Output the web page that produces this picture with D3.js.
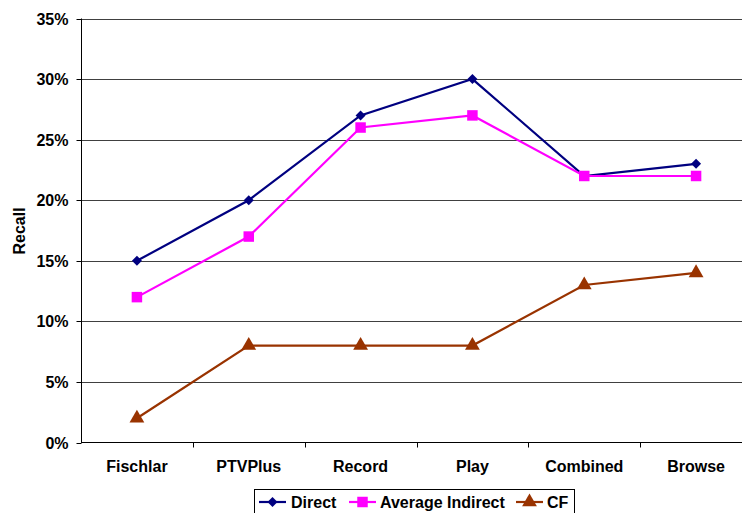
<!DOCTYPE html>
<html><head><meta charset="utf-8">
<script src="https://cdn.jsdelivr.net/npm/d3@7"></script>
<style>body{margin:0;background:#fff}svg{display:block;font-family:"Liberation Sans",Arial,sans-serif}</style>
</head><body><svg id="c" width="742" height="513"></svg>
<script>
const categories = ["Fischlar","PTVPlus","Record","Play","Combined","Browse"];
const direct = [15,20,27,30,22,23];
const avgIndirect = [12,17,26,27,22,22];
const cf = [2,8,8,8,13,14];
const yTicks = [0,5,10,15,20,25,30,35];
const seriesNames = ["Direct","Average Indirect","CF"];

const series = [
  {name: seriesNames[0], values: direct, color: "#000080", sym: d3.symbolSquare, size: 50, rot: 45},
  {name: seriesNames[1], values: avgIndirect, color: "#FF00FF", sym: d3.symbolSquare, size: 110, rot: 0},
  {name: seriesNames[2], values: cf, color: "#993300", sym: d3.symbolTriangle, size: 95, rot: 0}
];

const svg = d3.select("#c");
const L = 81, R = 752, T = 18.5, B = 442.5;
const x = d3.scaleBand().domain(categories).range([L, R]);
const y = d3.scaleLinear().domain([0,35]).range([B, T]);

svg.append("g").selectAll("line").data(yTicks.filter(d=>d>0)).join("line")
  .attr("x1", L).attr("x2", 742).attr("y1", d=>Math.round(y(d))+0.5).attr("y2", d=>Math.round(y(d))+0.5)
  .attr("stroke", "#404040").attr("stroke-width", 1);

const yAxis = svg.append("g").attr("transform", `translate(${L+0.5},0)`)
  .call(d3.axisLeft(y).tickValues(yTicks).tickFormat(d=>d+"%").tickSize(5).tickPadding(8));
yAxis.select(".domain").attr("stroke","#000").attr("d", `M0,${T}V${B}`);
yAxis.selectAll(".tick line").attr("stroke","#000");
yAxis.selectAll(".tick").attr("transform", d=>`translate(0,${Math.round(y(d))+0.5})`);
yAxis.selectAll("text").attr("font-size", 16).attr("font-weight","bold").attr("fill","#000")
  .attr("font-family",'"Liberation Sans",Arial,sans-serif');

const xAxis = svg.append("g").attr("transform", `translate(0,${B})`)
  .call(d3.axisBottom(x).tickSize(0).tickPadding(18));
xAxis.select(".domain").attr("stroke","#000").attr("d", `M${L},0H742`);
xAxis.selectAll("text").attr("font-size", 16).attr("font-weight","bold").attr("fill","#000")
  .attr("font-family",'"Liberation Sans",Arial,sans-serif');
svg.append("g").selectAll("line").data(categories.slice(1)).join("line")
  .attr("x1", d=>Math.round(x(d))+0.5).attr("x2", d=>Math.round(x(d))+0.5)
  .attr("y1", B).attr("y2", B+5).attr("stroke","#000");

svg.append("text").attr("transform","translate(25,231) rotate(-90)")
  .attr("text-anchor","middle").attr("font-size",16).attr("font-weight","bold").text("Recall");

const cx = d => x(d) + x.bandwidth()/2;
const line = d3.line().x((d,i)=>cx(categories[i])).y(d=>y(d));

series.forEach(s => {
  svg.append("path").attr("d", line(s.values)).attr("fill","none")
    .attr("stroke", s.color).attr("stroke-width", 2.2);
  svg.append("g").selectAll("path").data(s.values).join("path")
    .attr("transform", (d,i)=>`translate(${cx(categories[i])},${y(d)}) rotate(${s.rot})`)
    .attr("d", d3.symbol().type(s.sym).size(s.size)).attr("fill", s.color);
});

const lg = svg.append("g");
lg.append("rect").attr("x",254.5).attr("y",489.5).attr("width",320).attr("height",30)
  .attr("fill","#fff").attr("stroke","#000");
const legendPos = [{lx:259, tx:291},{lx:349, tx:380},{lx:516, tx:547}];
series.forEach((s,i) => {
  const p = legendPos[i];
  lg.append("line").attr("x1",p.lx).attr("x2",p.lx+27).attr("y1",502).attr("y2",502)
    .attr("stroke",s.color).attr("stroke-width",2.2);
  lg.append("path").attr("transform",`translate(${p.lx+13.5},502) rotate(${s.rot})`)
    .attr("d", d3.symbol().type(s.sym).size(s.size)).attr("fill", s.color);
  lg.append("text").attr("x",p.tx).attr("y",507.5).attr("font-size",16).attr("font-weight","bold").text(s.name);
});
</script></body></html>
